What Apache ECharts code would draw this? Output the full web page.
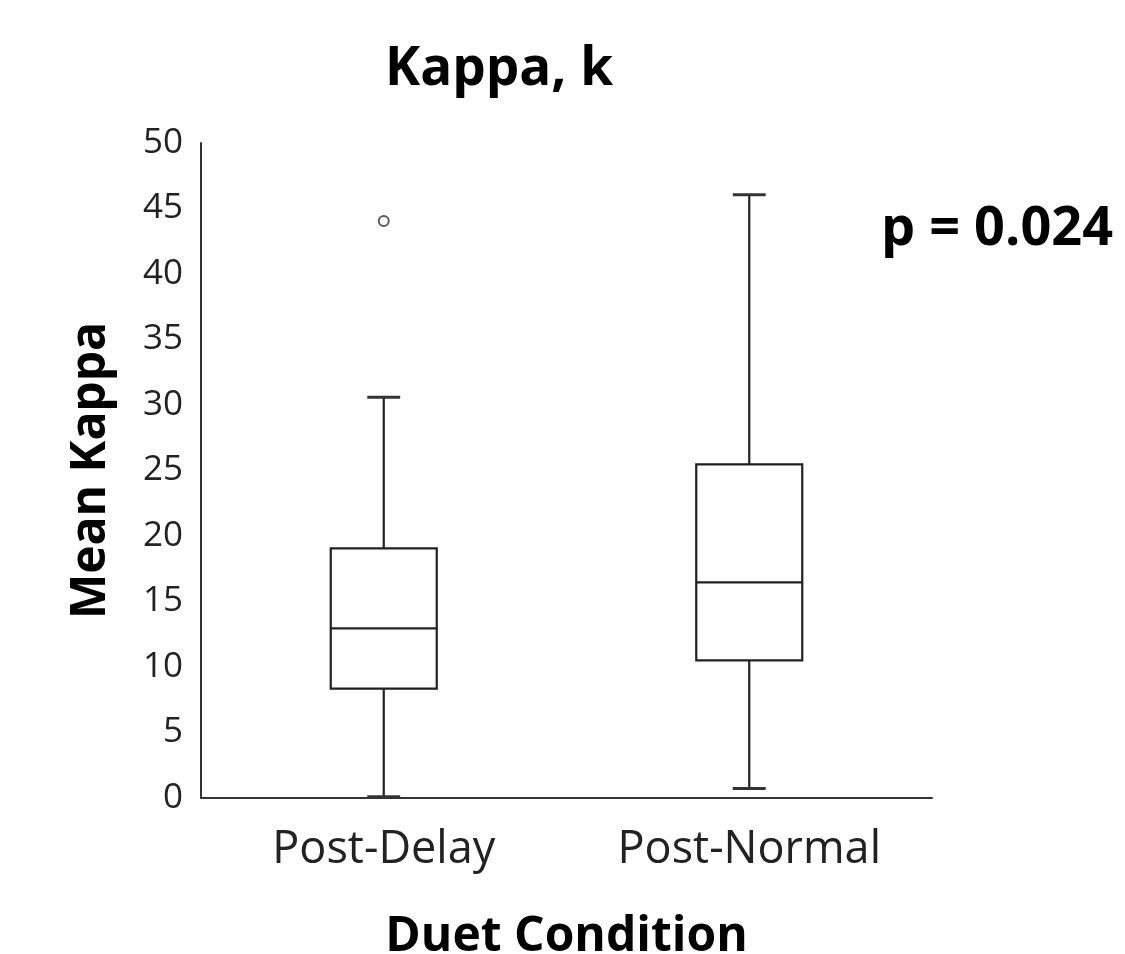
<!DOCTYPE html>
<html>
<head>
<meta charset="utf-8">
<script src="https://cdn.jsdelivr.net/npm/echarts@6/dist/echarts.min.js"></script>
<style>html,body{margin:0;padding:0;background:#fff;}#c{width:1125px;height:954px;}</style>
</head>
<body>
<div id="c"></div>
<script>
const categories = ['Post-Delay', 'Post-Normal'];
// [min, Q1, median, Q3, max]
const boxStats = [
  [0.1, 8.35, 12.95, 19.05, 30.6],
  [0.72, 10.5, 16.46, 25.46, 46.05]
];
const outliers = [[0, 44.05]];
const yTicks = [0, 5, 10, 15, 20, 25, 30, 35, 40, 45, 50];

const FONT = '"Open Sans", "Liberation Sans", sans-serif';
const chart = echarts.init(document.getElementById('c'), null, {renderer: 'canvas'});

const boxData = boxStats.map((s, i) => [i].concat(s));

chart.setOption({
  backgroundColor: '#fff',
  animation: false,
  title: {
    text: 'Kappa, k',
    left: 494, top: 38,
    textAlign: 'center',
    textStyle: {fontFamily: FONT, fontSize: 53, fontWeight: 'bold', color: '#000'}
  },
  graphic: [{
    type: 'text', left: 881, top: 203,
    style: {text: 'p = 0.024', font: 'bold 54px ' + FONT, fill: '#000'}
  }],
  grid: {left: 201, right: 193, top: 143, bottom: 156, outerBoundsMode: 'none', containLabel: false},
  xAxis: {
    type: 'category',
    data: categories,
    axisLine: {lineStyle: {color: '#333', width: 2}},
    axisTick: {show: false},
    axisLabel: {fontFamily: FONT, fontSize: 45, color: '#222', margin: 30},
    name: 'Duet Condition',
    nameLocation: 'middle',
    nameGap: 115,
    nameTextStyle: {fontFamily: FONT, fontSize: 48, fontWeight: 'bold', color: '#000'}
  },
  yAxis: {
    type: 'value',
    min: 0, max: 50, interval: 5,
    axisLine: {show: true, lineStyle: {color: '#333', width: 2}},
    axisTick: {show: false},
    splitLine: {show: false},
    axisLabel: {fontFamily: FONT, fontSize: 35, color: '#222', margin: 18,
      formatter: v => yTicks.includes(v) ? String(v) : ''},
    name: 'Mean Kappa',
    nameLocation: 'middle',
    nameGap: 86,
    nameRotate: 90,
    nameTextStyle: {fontFamily: FONT, fontSize: 48, fontWeight: 'bold', color: '#000'}
  },
  series: [{
    type: 'custom',
    data: boxData,
    encode: {x: 0, y: [1, 2, 3, 4, 5]},
    renderItem: function (params, api) {
      const i = api.value(0);
      const pMin = api.coord([i, api.value(1)]);
      const pQ1 = api.coord([i, api.value(2)]);
      const pMed = api.coord([i, api.value(3)]);
      const pQ3 = api.coord([i, api.value(4)]);
      const pMax = api.coord([i, api.value(5)]);
      const band = api.size([1, 0])[0];
      const bw = band * 0.29;
      const cw = band * 0.09;
      const cx = pMed[0];
      const st = {stroke: '#222', lineWidth: 2.2, fill: null};
      return {
        type: 'group',
        children: [
          {type: 'rect', shape: {x: cx - bw / 2, y: pQ3[1], width: bw, height: pQ1[1] - pQ3[1]}, style: {stroke: '#222', lineWidth: 2.2, fill: '#fff'}},
          {type: 'line', shape: {x1: cx - bw / 2, y1: pMed[1], x2: cx + bw / 2, y2: pMed[1]}, style: st},
          {type: 'line', shape: {x1: cx, y1: pQ3[1], x2: cx, y2: pMax[1]}, style: st},
          {type: 'line', shape: {x1: cx, y1: pQ1[1], x2: cx, y2: pMin[1]}, style: st},
          {type: 'line', shape: {x1: cx - cw / 2, y1: pMax[1], x2: cx + cw / 2, y2: pMax[1]}, style: {stroke: '#333', lineWidth: 3}},
          {type: 'line', shape: {x1: cx - cw / 2, y1: pMin[1], x2: cx + cw / 2, y2: pMin[1]}, style: {stroke: '#333', lineWidth: 3}}
        ]
      };
    },
    z: 3
  }, {
    type: 'scatter',
    data: outliers,
    symbol: 'circle',
    symbolSize: 10,
    itemStyle: {color: '#fff', borderColor: '#333', borderWidth: 2},
    z: 4
  }]
});
</script>
</body>
</html>
